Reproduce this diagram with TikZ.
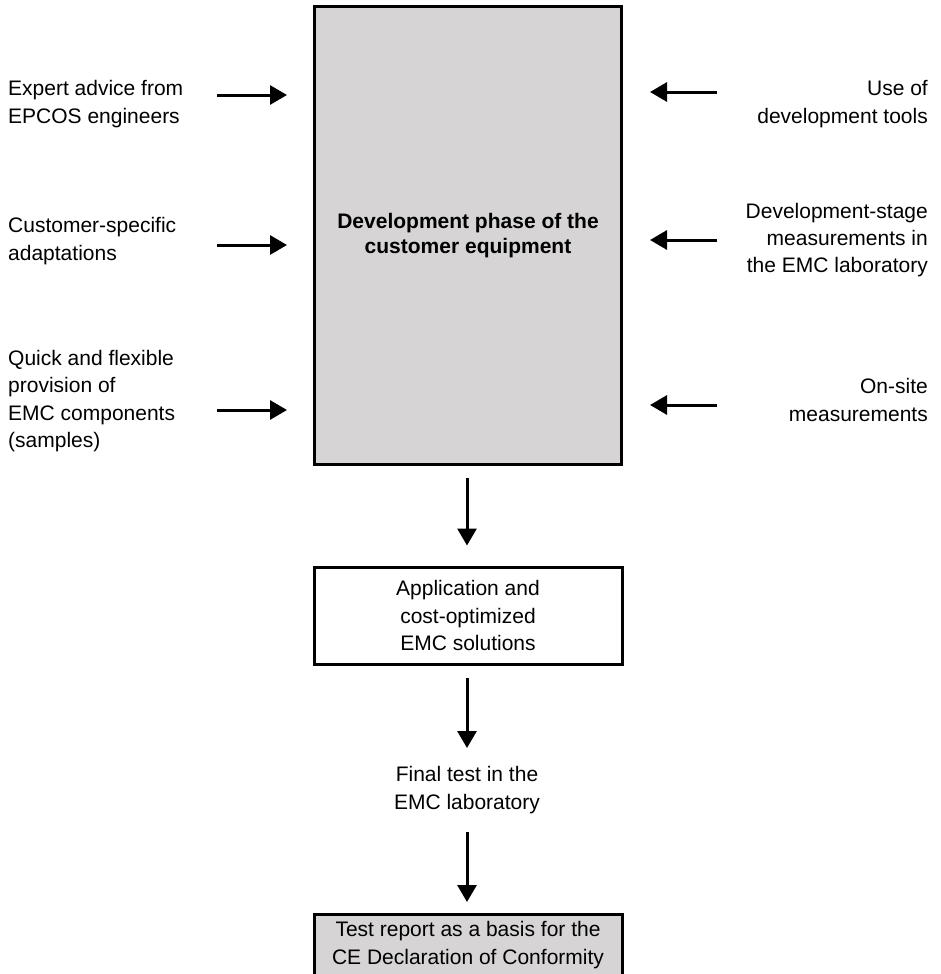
\documentclass[tikz,border=0pt]{standalone}
\usepackage{fontspec}
\setmainfont{Liberation Sans}
\usetikzlibrary{arrows.meta}
\definecolor{boxgray}{RGB}{214,212,212}
\tikzset{
  arr/.style={line width=3pt, -{Triangle[length=17pt,width=19pt]}},
  lbl/.style={inner sep=0pt, font=\fontsize{21}{27.3}\selectfont},
  bx/.style={draw, line width=3pt, inner sep=0pt, font=\fontsize{21}{27.3}\selectfont, align=center}
}
\begin{document}
\begin{tikzpicture}[x=1pt,y=-1pt]
\useasboundingbox (0,0) rectangle (941,974);
% main box
\node[bx, fill=boxgray, minimum width=307pt, minimum height=457pt, font=\fontsize{21}{25.5}\selectfont\bfseries] (main) at (468,235.5) {Development phase of the\\customer equipment};
% left labels
\node[lbl, anchor=west, align=left] (l1) at (8,104) {Expert advice from\\EPCOS engineers};
\node[lbl, anchor=west, align=left] (l2) at (8,241) {Customer-specific\\adaptations};
\node[lbl, anchor=west, align=left] (l3) at (8,401) {Quick and flexible\\provision of\\EMC components\\(samples)};
% right labels
\node[lbl, anchor=east, align=right] (r1) at (928,104) {Use of\\development tools};
\node[lbl, anchor=east, align=right] (r2) at (928,240) {Development-stage\\measurements in\\the EMC laboratory};
\node[lbl, anchor=east, align=right] (r3) at (928,400) {On-site\\measurements};
% arrow coordinates
\coordinate (l1a) at (217,95);  \coordinate (l1b) at (287,95);
\coordinate (l2a) at (217,245); \coordinate (l2b) at (287,245);
\coordinate (l3a) at (217,410); \coordinate (l3b) at (287,410);
\coordinate (r1a) at (717,92);  \coordinate (r1b) at (650,92);
\coordinate (r2a) at (717,240); \coordinate (r2b) at (650,240);
\coordinate (r3a) at (717,405); \coordinate (r3b) at (650,405);
\draw[arr] (l1a) -- (l1b);
\draw[arr] (l2a) -- (l2b);
\draw[arr] (l3a) -- (l3b);
\draw[arr] (r1a) -- (r1b);
\draw[arr] (r2a) -- (r2b);
\draw[arr] (r3a) -- (r3b);
% lower chain
\node[bx, fill=white, minimum width=308pt, minimum height=97pt] (sol) at (468,615.5) {Application and\\cost-optimized\\EMC solutions};
\node[lbl, align=center] (fin) at (467,790) {Final test in the\\EMC laboratory};
\node[bx, fill=boxgray, minimum width=308pt, minimum height=62pt] (rep) at (468,945) {Test report as a basis for the\\CE Declaration of Conformity};
\draw[arr, shorten <=12pt, shorten >=20pt] (main.south -| 467,0) -- (sol.north -| 467,0);
\coordinate (a2a) at (467,678); \coordinate (a2b) at (467,748);
\draw[arr] (a2a) -- (a2b);
\coordinate (a3a) at (467,832); \coordinate (a3b) at (467,902);
\draw[arr] (a3a) -- (a3b);
\end{tikzpicture}
\end{document}
